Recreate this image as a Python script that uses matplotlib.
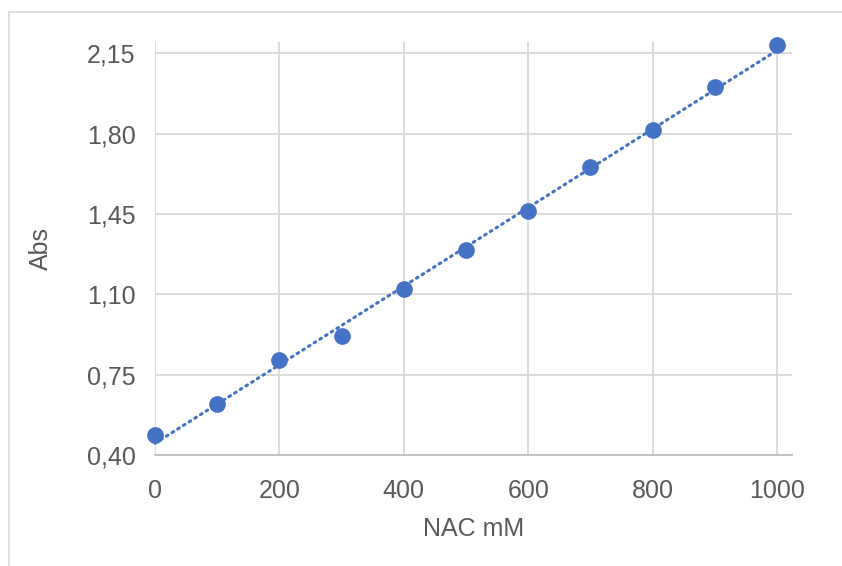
import numpy as np
import matplotlib.pyplot as plt
from matplotlib.patches import Rectangle
from matplotlib.ticker import FuncFormatter

# NAC concentration (mM) vs absorbance
nac_mm = [0, 100, 200, 300, 400, 500, 600, 700, 800, 900, 1000]
absorbance = [0.487, 0.622, 0.814, 0.918, 1.123, 1.292, 1.462, 1.654, 1.815, 2.006, 2.185]

x_ticks = [0, 200, 400, 600, 800, 1000]
y_ticks = [0.40, 0.75, 1.10, 1.45, 1.80, 2.15]

blue = "#4472C4"
grid_col = "#D9D9D9"
text_col = "#595959"

plt.rcParams['font.family'] = ['Liberation Sans', 'DejaVu Sans']

fig = plt.figure(figsize=(8.42, 5.66), dpi=100)
ax = fig.add_axes([155/842, 1 - 455/566, (792 - 155)/842, (455 - 42)/566])

# chart area border (cropped on the right and bottom)
fig.patches.append(Rectangle((9/842, -0.1), 1.2, 1 - 12/566 + 0.1,
                             transform=fig.transFigure, fill=False,
                             edgecolor=grid_col, linewidth=1.2))

# linear trendline
slope, intercept = np.polyfit(nac_mm, absorbance, 1)
xt = np.array([nac_mm[0], nac_mm[-1]])
ax.plot(xt, slope * xt + intercept, linestyle=(0, (0.6, 1.6)), color=blue,
        linewidth=2.2, dash_capstyle='round', zorder=2, clip_on=False)

ax.plot(nac_mm, absorbance, linestyle='none', marker='o', markersize=11,
        color=blue, zorder=3, clip_on=False)

ax.set_xlim(0, 1024)
ax.set_ylim(0.40, 2.20)
ax.set_xticks(x_ticks)
ax.set_yticks(y_ticks)
ax.yaxis.set_major_formatter(FuncFormatter(lambda v, p: f"{v:.2f}".replace('.', ',')))

ax.grid(True, color=grid_col, linewidth=1.3)
ax.set_axisbelow(True)
for s in ['top', 'right', 'left']:
    ax.spines[s].set_visible(False)
ax.spines['bottom'].set_color('#BFBFBF')
ax.spines['bottom'].set_linewidth(1.3)

ax.tick_params(length=0, labelsize=18, colors=text_col)
ax.tick_params(axis='x', pad=17)
ax.tick_params(axis='y', pad=14)
ax.set_xlabel("NAC mM", fontsize=18, color=text_col, labelpad=10)
ax.set_ylabel("Abs", fontsize=18, color=text_col, labelpad=24)

fig.savefig("out.png", dpi=100)
